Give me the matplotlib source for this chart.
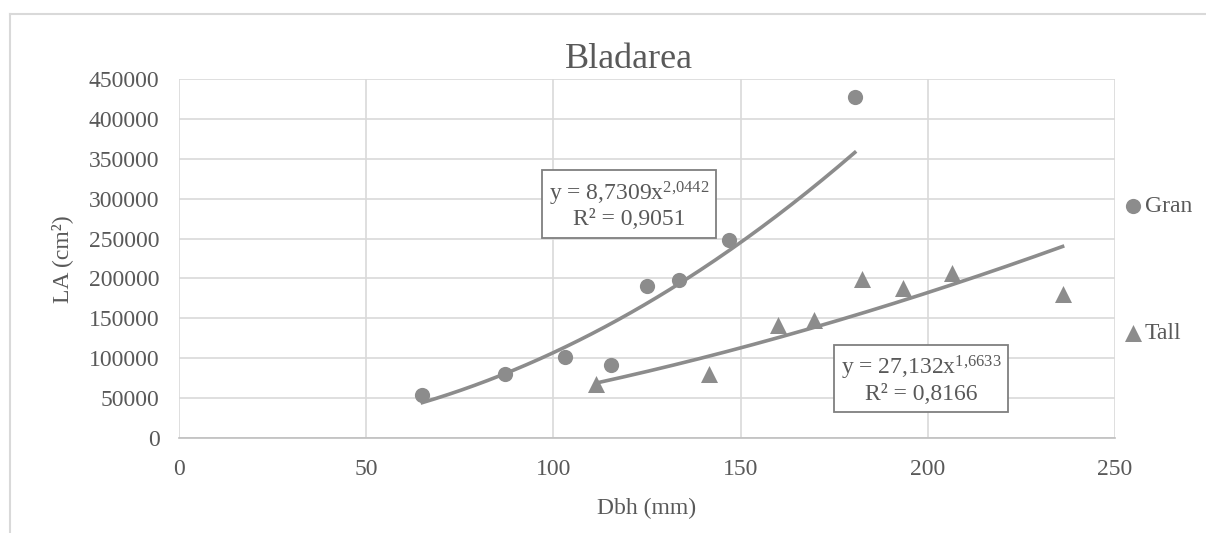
import numpy as np
import matplotlib
matplotlib.use("Agg")
import matplotlib.pyplot as plt
from matplotlib.lines import Line2D

plt.rcParams['font.family'] = ['Liberation Serif', 'DejaVu Serif']
plt.rcParams['mathtext.fontset'] = 'custom'
plt.rcParams['mathtext.rm'] = 'Liberation Serif'
plt.rcParams['mathtext.it'] = 'Liberation Serif'

title = "Bladarea"
xlabel = "Dbh (mm)"
ylabel = "LA (cm²)"

gran_x = [65, 87, 103, 115.5, 125, 133.5, 147, 180.5]
gran_y = [54000, 80000, 102000, 91000, 190000, 198000, 248000, 428000]
tall_x = [111.5, 141.5, 160, 169.5, 182.5, 193.5, 206.5, 236]
tall_y = [68000, 80000, 142000, 148000, 199000, 188000, 207000, 180000]

gran_coef, gran_exp, gran_r2 = 8.7309, 2.0442, "0,9051"
tall_coef, tall_exp, tall_r2 = 27.132, 1.6633, "0,8166"

xticks = [0, 50, 100, 150, 200, 250]
yticks = [0, 50000, 100000, 150000, 200000, 250000, 300000, 350000, 400000, 450000]

TXT = '#595959'
GRID = '#d9d9d9'
MK = '#8c8c8c'

fig = plt.figure(figsize=(12.06, 5.33), dpi=100)
ax = fig.add_axes([179/1206, 1-438/533, (1115-179)/1206, (438-79)/533])

# outer chart frame (left and top visible)
fig.add_artist(Line2D([10/1206, 10/1206], [0, 1-14/533], color=GRID, lw=1.5, transform=fig.transFigure))
fig.add_artist(Line2D([10/1206, 1], [1-14/533, 1-14/533], color=GRID, lw=1.5, transform=fig.transFigure))

ax.set_xlim(0, 250)
ax.set_ylim(0, 450000)
ax.set_xticks(xticks)
ax.set_yticks(yticks)
ax.set_xticklabels([str(v) for v in xticks])
ax.set_yticklabels([str(v) for v in yticks])
ax.grid(True, color=GRID, lw=1.2, zorder=0)
ax.set_axisbelow(True)
ax.tick_params(length=0, labelsize=17, labelcolor=TXT, pad=14)
ax.tick_params(axis='x', pad=15)
for s in ['top', 'right', 'left']:
    ax.spines[s].set_visible(False)
ax.spines['bottom'].set_color('#bfbfbf')
ax.spines['bottom'].set_linewidth(1.2)

ax.scatter(gran_x, gran_y, s=120, marker='o', color=MK, label='Gran', zorder=3, linewidths=0)
ax.scatter(tall_x, tall_y, s=150, marker='^', color=MK, label='Tall', zorder=3, linewidths=0)

xg = np.linspace(min(gran_x), max(gran_x), 200)
ax.plot(xg, gran_coef * xg ** gran_exp, color=MK, lw=2.6, zorder=2)
xt = np.linspace(min(tall_x), max(tall_x), 200)
ax.plot(xt, tall_coef * xt ** tall_exp, color=MK, lw=2.6, zorder=2)

def fmt(v):
    return ("%g" % v).replace('.', '{,}')

bbox = dict(boxstyle='square,pad=0.3', fc='white', ec='#7f7f7f', lw=1.3)
ax.text(120.2, 292000, "y = %sx$^{%s}$\nR² = %s" % (("%g" % gran_coef).replace('.', ','), fmt(gran_exp), gran_r2),
        ha='center', va='center', fontsize=17, color=TXT, bbox=bbox, linespacing=1.1, zorder=4)
ax.text(198.2, 73300, "y = %sx$^{%s}$\nR² = %s" % (("%g" % tall_coef).replace('.', ','), fmt(tall_exp), tall_r2),
        ha='center', va='center', fontsize=17, color=TXT, bbox=bbox, linespacing=1.1, zorder=4)

fig.text(629/1206, 1-60/533, title, ha='center', va='center', fontsize=26, color=TXT)
fig.text(647/1206, 1-508/533, xlabel, ha='center', va='center', fontsize=17, color=TXT)
fig.text(62/1206, 1-259/533, ylabel, ha='center', va='center', fontsize=17, color=TXT, rotation=90)

leg = fig.legend(loc='center left', bbox_to_anchor=(1112/1206, 1-270/533), frameon=False,
                 fontsize=17, labelcolor=TXT, handletextpad=0.0, labelspacing=4.45,
                 handlelength=1.0, borderaxespad=0)

fig.savefig("out.png", dpi=100, facecolor='white')
